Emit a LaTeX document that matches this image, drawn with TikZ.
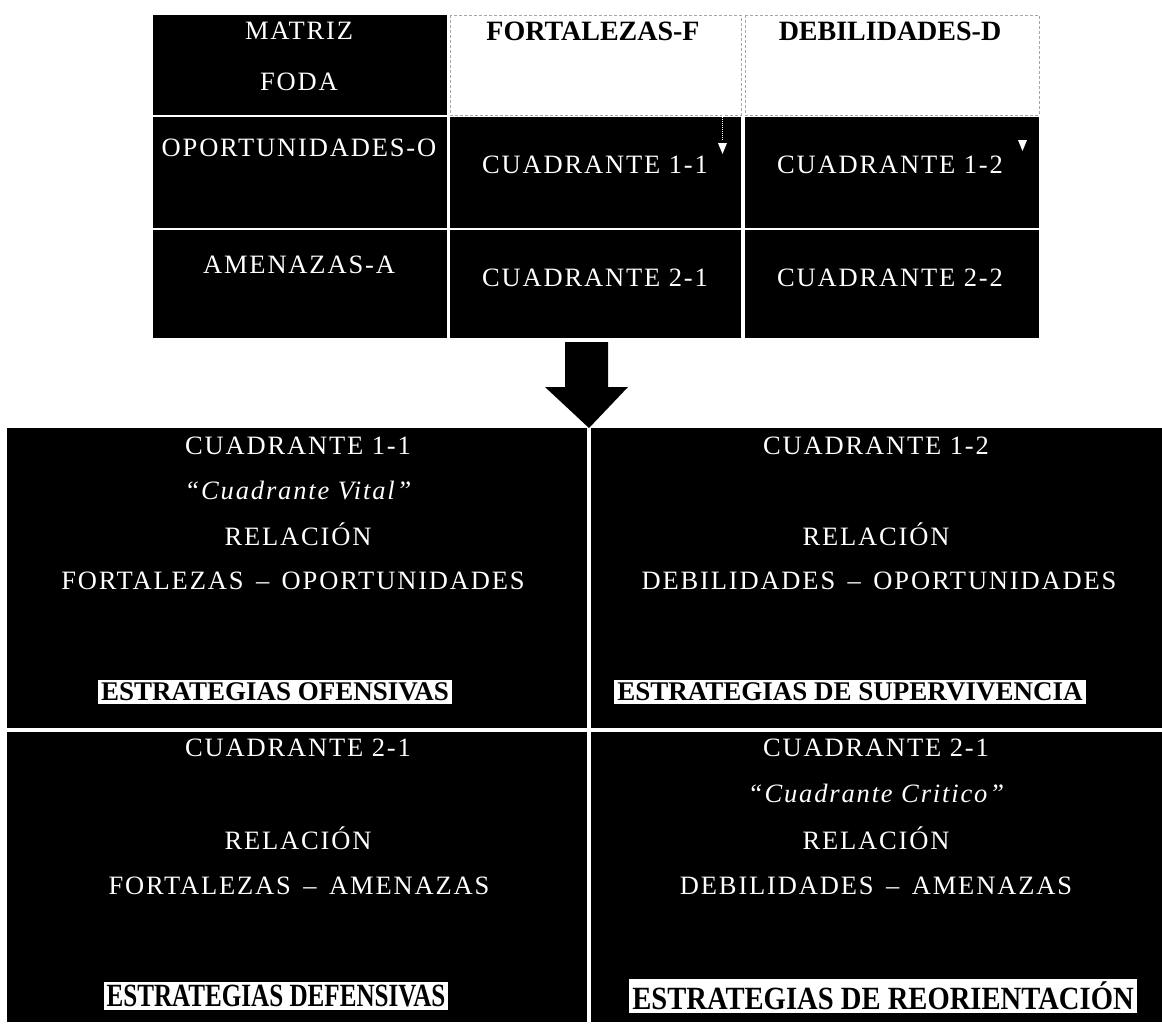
\documentclass[tikz,border=0pt]{standalone}
\usepackage{fontspec}
\setmainfont{Liberation Serif}
\newfontfamily\spc[LetterSpace=7]{Liberation Serif}
\usetikzlibrary{arrows.meta}
\newcommand{\dsh}{\ \kern4pt–\kern4pt\ }
\begin{document}
\begin{tikzpicture}[x=1pt,y=-1pt,
  blk/.style={fill=black,draw=none},
  hdcell/.style={fill=white,draw=gray!70,densely dashed,line width=1pt},
  wt/.style={text=white,font=\spc\fontsize{26.5}{30}\selectfont,inner sep=0pt},
  wtit/.style={text=white,font=\spc\itshape\fontsize{26.5}{30}\selectfont,inner sep=0pt},
  hd/.style={text=black,font=\bfseries\fontsize{28}{32}\selectfont,inner sep=0pt},
  strat/.style={fill=white,text=black,font=\bfseries\fontsize{27}{30}\selectfont,inner xsep=3pt,inner ysep=3pt},
  stratb/.style={fill=white,text=black,font=\bfseries\fontsize{27}{30}\selectfont,inner xsep=3pt,inner ysep=3pt},
]
\useasboundingbox (0,0) rectangle (1162,1023);
\fill[white] (0,0) rectangle (1162,1023);
% top table
\fill[blk] (153,15) rectangle (447,115);
\draw[hdcell] (450,15) rectangle (741,115);
\draw[hdcell] (745,15) rectangle (1039,115);
\fill[blk] (153,117) rectangle (447,228);
\fill[blk] (450,117) rectangle (741,228);
\fill[blk] (745,117) rectangle (1039,228);
\fill[blk] (153,230) rectangle (447,338);
\fill[blk] (450,230) rectangle (741,338);
\fill[blk] (745,230) rectangle (1039,338);
\node[wt] (matriz) at (299,31) {MATRIZ};
\node[wt] (foda) at (299,82) {FODA};
\node[hd] (fort) at (593,31) {FORTALEZAS-F};
\node[hd] (debi) at (890,31) {DEBILIDADES-D};
\node[wt] (opor) at (299,148) {OPORTUNIDADES-O};
\node[wt] (c11) at (595,165) {CUADRANTE 1-1};
\node[wt] (c12) at (890,165) {CUADRANTE 1-2};
\node[wt] (amen) at (299,265) {AMENAZAS-A};
\node[wt] (c21) at (595,278) {CUADRANTE 2-1};
\node[wt] (c22) at (890,278) {CUADRANTE 2-2};
\coordinate (tA) at (722,113);
\coordinate (tB) at (722,141);
\draw[white,densely dotted,line width=1pt] (tA) -- (tB);
\fill[white] (718,143) -- (727,143) -- (722.5,154) -- cycle;
\fill[white] (1018,140) -- (1027,140) -- (1022.5,151) -- cycle;
% arrow
\coordinate (arrTop) at (587,342);
\coordinate (arrTip) at (589,428);
\fill[black] (565,342) -- (608,342) -- (608,387) -- (628,387) -- (arrTip) -- (545,387) -- (565,387) -- cycle;
% bottom grid
\fill[blk] (7,428) rectangle (587,728);
\fill[blk] (591,428) rectangle (1162,728);
\fill[blk] (7,732) rectangle (587,1022);
\fill[blk] (591,732) rectangle (1162,1022);
% q11
\node[wt] (a1) at (298,446) {CUADRANTE 1-1};
\node[wtit] (a2) at (298,490) {“Cuadrante Vital”};
\node[wt] (a3) at (298,534) {RELACIÓN};
\node[wt] (a4) at (293,581) {FORTALEZAS\dsh OPORTUNIDADES};
\node[strat] (a5) at (275,692) {ESTRATEGIAS OFENSIVAS};
% q12
\node[wt] (b1) at (876,446) {CUADRANTE 1-2};
\node[wt] (b3) at (876,534) {RELACIÓN};
\node[wt] (b4) at (879,581) {DEBILIDADES\dsh OPORTUNIDADES};
\node[strat] (b5) at (850,692) {ESTRATEGIAS DE SUPERVIVENCIA};
% q21
\node[wt] (d1) at (298,748) {CUADRANTE 2-1};
\node[wt] (d3) at (298,838) {RELACIÓN};
\node[wt] (d4) at (299,886) {FORTALEZAS\dsh AMENAZAS};
\node[stratb] (d5) at (276,996) {\scalebox{0.93}[1.2]{ESTRATEGIAS DEFENSIVAS}};
% q22
\node[wt] (e1) at (876,748) {CUADRANTE 2-1};
\node[wtit] (e2) at (876,793) {“Cuadrante Critico”};
\node[wt] (e3) at (876,838) {RELACIÓN};
\node[wt] (e4) at (876,886) {DEBILIDADES\dsh AMENAZAS};
\node[stratb] (e5) at (883,996) {\scalebox{1.06}[1.2]{ESTRATEGIAS DE REORIENTACIÓN}};
\end{tikzpicture}
\end{document}
